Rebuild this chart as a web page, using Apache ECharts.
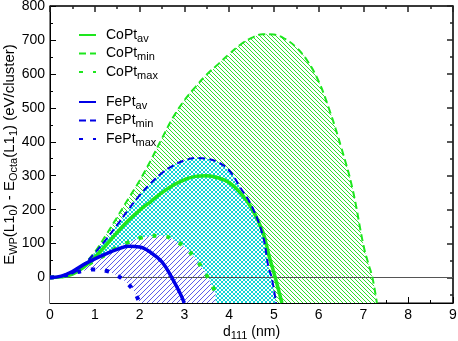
<!DOCTYPE html>
<html>
<head>
<meta charset="utf-8">
<script src="https://cdn.jsdelivr.net/npm/echarts@6/dist/echarts.min.js"></script>
<style>
  html, body { margin: 0; padding: 0; background: #fff; }
  #chart { width: 458px; height: 341px; }
</style>
</head>
<body>
<div id="chart"></div>
<script>
  // values: x = d111 (nm), y = eV/cluster
  const coptMinX = [0, 0.25, 0.5, 0.75, 1, 1.25, 1.5, 1.75, 2, 2.25, 2.5, 2.75, 3, 3.25, 3.5, 3.75, 4, 4.25, 4.5, 4.75, 5, 5.25, 5.5, 5.75, 6, 6.25, 6.5, 6.75, 7, 7.1, 7.2, 7.3]
  const coptMinY = [0, 3, 12, 38, 75, 125, 178, 232, 285, 345, 410, 472, 522, 562, 598, 628, 658, 686, 706, 717, 716, 703, 678, 638, 578, 490, 385, 265, 95, 45, 0, -75]

  const coptAvX = [0, 0.25, 0.5, 0.75, 1, 1.25, 1.5, 1.75, 2, 2.25, 2.5, 2.75, 3, 3.25, 3.5, 3.75, 4, 4.25, 4.5, 4.75, 4.9, 5.03, 5.18]
  const coptAvY = [0, 2, 10, 30, 60, 95, 133, 168, 198, 224, 250, 272, 288, 298, 300, 294, 280, 250, 205, 135, 60, 0, -75]

  const coptMaxX = [0, 0.25, 0.5, 0.75, 1, 1.25, 1.5, 1.75, 2, 2.25, 2.5, 2.75, 3, 3.25, 3.5, 3.7]
  const coptMaxY = [0, 3, 12, 30, 50, 68, 88, 104, 116, 122, 123, 112, 90, 55, 6, -45]

  const feptMinX = [0, 0.25, 0.5, 0.75, 1, 1.25, 1.5, 1.75, 2, 2.25, 2.5, 2.75, 3, 3.25, 3.5, 3.75, 4, 4.25, 4.5, 4.75, 4.88, 4.95, 5.05]
  const feptMinY = [0, 3, 12, 38, 72, 112, 155, 200, 242, 278, 308, 330, 345, 352, 350, 340, 316, 265, 212, 125, 30, 0, -75]

  const feptAvX = [0, 0.25, 0.5, 0.75, 1, 1.25, 1.5, 1.75, 2, 2.25, 2.5, 2.72, 2.9, 3.0]
  const feptAvY = [0, 4, 18, 38, 55, 70, 83, 92, 90, 74, 46, 0, -45, -75]

  const feptMaxX = [0, 0.25, 0.5, 0.75, 1, 1.25, 1.5, 1.75, 1.9, 2.0]
  const feptMaxY = [0, 3, 12, 20, 24, 20, 6, -20, -46, -75]

  const yMajorTicks = [0, 100, 200, 300, 400, 500, 600, 700, 800]
  const yMinorTicks = [-50, 50, 150, 250, 350, 450, 550, 650, 750]

  // text labels inside the plot: [x, y, text]
  const notes = [
    [4.8, 513, '{b|CoPt}'],
    [3.25, 177, '{b|FePt}'],
    [7.49, 396, '{b|L1}{t|1}{b| Octa}'],
    [8.04, -33, '{b|L1}{t|0}{b| WP}']
  ]

  const GREEN = '#1ee61e'
  const BLUE = '#0000e6'
  const FONT = 'Liberation Sans, Arial, sans-serif'

  function zip (xs, ys) {
    return xs.map((x, i) => [x, ys[i]])
  }

  // hatch tiles, white underneath so each layer hides the one below
  function pattern (size, color, dirs) {
    const c = document.createElement('canvas')
    c.width = size
    c.height = size
    const ctx = c.getContext('2d')
    ctx.fillStyle = '#fff'
    ctx.fillRect(0, 0, size, size)
    ctx.strokeStyle = color
    ctx.lineWidth = 1
    dirs.forEach(d => {
      for (let k = -size; k <= size; k += size) {
        ctx.beginPath()
        if (d === '\\') {
          ctx.moveTo(k, 0)
          ctx.lineTo(k + size, size)
        } else {
          ctx.moveTo(k, size)
          ctx.lineTo(k + size, 0)
        }
        ctx.stroke()
      }
    })
    return { image: c, repeat: 'repeat' }
  }

  function fill (data, color, z) {
    return {
      type: 'line',
      data: data,
      smooth: 0.4,
      symbol: 'none',
      silent: true,
      z: z,
      lineStyle: { width: 0, opacity: 0 },
      areaStyle: { color: color, origin: 'start', opacity: 1 }
    }
  }

  function curve (name, data, color, type, width) {
    return {
      name: name,
      type: 'line',
      data: data,
      smooth: 0.4,
      symbol: 'none',
      z: 10,
      itemStyle: { color: color },
      lineStyle: { color: color, width: width, type: type, cap: 'butt' }
    }
  }

  const subRich = {
    a: { fontSize: 14, lineHeight: 18, color: '#000', fontFamily: FONT },
    s: { fontSize: 11, lineHeight: 11, verticalAlign: 'bottom', color: '#000', fontFamily: FONT }
  }
  const sub = name => {
    const p = name.split('_')
    return '{a|' + p[0] + '}{s|' + p[1] + '}'
  }

  function legend (names, top) {
    return {
      data: names,
      orient: 'vertical',
      left: 73,
      top: top,
      itemWidth: 17,
      itemHeight: 12,
      itemGap: 2.5,
      selectedMode: false,
      itemStyle: { opacity: 0 },
      formatter: sub,
      textStyle: { padding: [0, 0, 0, 5], rich: subRich }
    }
  }

  const tickLine = { color: '#000', width: 1 }
  // top / right edge: a little heavier so the 1px line is not lost
  const edgeLine = { color: '#222', width: 1.5 }

  function xAx (pos) {
    const line = pos === 'top' ? edgeLine : tickLine
    const ax = {
      type: 'value',
      min: 0,
      max: 9,
      interval: 1,
      position: pos,
      offset: 0,
      axisLine: { show: true, onZero: false, lineStyle: line },
      axisTick: { inside: true, length: 6, lineStyle: line },
      minorTick: { show: true, splitNumber: 2, length: 3, lineStyle: line },
      splitLine: { show: false },
      axisLabel: { show: pos === 'bottom', fontSize: 14, color: '#000', margin: 5, fontFamily: FONT }
    }
    if (pos === 'bottom') {
      ax.name = '{a|d}{s|111}{a| (nm)}'
      ax.nameLocation = 'middle'
      ax.nameGap = 20
      ax.nameMoveOverlap = false
      ax.nameTextStyle = { rich: subRich }
    }
    return ax
  }

  function yAx (pos, ticks, len, main) {
    const line = pos === 'right' ? edgeLine : tickLine
    return {
      type: 'value',
      min: -75,
      max: 800,
      position: pos,
      offset: 0,
      axisLine: { show: main, onZero: false, lineStyle: line },
      axisTick: { inside: true, length: len, lineStyle: line, customValues: ticks },
      splitLine: { show: false },
      axisLabel: { show: main && pos === 'left', customValues: ticks, fontSize: 14, color: '#000', margin: 5, fontFamily: FONT }
    }
  }

  const yMain = yAx('left', yMajorTicks, 6, true)
  yMain.name = '{a|E}{s|WP}{a|(L1}{s|0}{a|) - E}{s|Octa}{a|(L1}{s|1}{a|) (eV/cluster)}'
  yMain.nameLocation = 'middle'
  yMain.nameRotate = 90
  yMain.nameGap = 31
  yMain.nameMoveOverlap = false
  yMain.nameTextStyle = {
    rich: {
      a: { fontSize: 15, lineHeight: 19, color: '#000', fontFamily: FONT },
      s: { fontSize: 11, lineHeight: 11, verticalAlign: 'bottom', color: '#000', fontFamily: FONT }
    }
  }

  const option = {
    animation: false,
    backgroundColor: '#fff',
    textStyle: { fontFamily: FONT },
    // the frame comes from the grid border, ticks from the four axes
    grid: { left: 50, top: 6, right: 5, bottom: 38, outerBoundsMode: 'none', show: true, borderColor: '#000', borderWidth: 1 },
    legend: [
      legend(['CoPt_av', 'CoPt_min', 'CoPt_max'], 23),
      legend(['FePt_av', 'FePt_min', 'FePt_max'], 90)
    ],
    xAxis: [xAx('bottom'), xAx('top')],
    yAxis: [
      yMain,
      yAx('left', yMinorTicks, 3, false),
      yAx('right', yMajorTicks, 6, true),
      yAx('right', yMinorTicks, 3, false)
    ],
    series: [
      fill(zip(coptMinX, coptMinY), pattern(4, '#2ee02e', ['\\']), 1),
      fill(zip(feptMinX, feptMinY), pattern(4, '#10d4d4', ['\\', '/']), 2),
      fill(zip(coptMaxX, coptMaxY), pattern(5, '#5a5aea', ['/']), 3),
      fill(zip(feptMaxX, feptMaxY), '#fff', 4),
      {
        type: 'scatter',
        data: notes,
        symbolSize: 0,
        silent: true,
        z: 5,
        itemStyle: { opacity: 0 },
        label: {
          show: true,
          position: 'inside',
          formatter: p => p.data[2],
          rich: {
            b: { fontSize: 16, lineHeight: 20, color: '#000', fontFamily: FONT },
            t: { fontSize: 12, lineHeight: 12, verticalAlign: 'bottom', color: '#000', fontFamily: FONT }
          }
        },
        markLine: {
          silent: true,
          symbol: 'none',
          label: { show: false },
          lineStyle: { color: '#555', width: 1, type: 'solid' },
          data: [{ yAxis: 0 }]
        }
      },
      curve('CoPt_av', zip(coptAvX, coptAvY), GREEN, 'solid', 3.5),
      curve('CoPt_min', zip(coptMinX, coptMinY), GREEN, [7, 4], 2),
      curve('CoPt_max', zip(coptMaxX, coptMaxY), GREEN, [4, 10], 4),
      curve('FePt_av', zip(feptAvX, feptAvY), BLUE, 'solid', 3.5),
      curve('FePt_min', zip(feptMinX, feptMinY), BLUE, [7, 4], 2),
      curve('FePt_max', zip(feptMaxX, feptMaxY), BLUE, [4, 10], 4)
    ]
  }

  const chart = echarts.init(document.getElementById('chart'))
  chart.setOption(option)
</script>
</body>
</html>
